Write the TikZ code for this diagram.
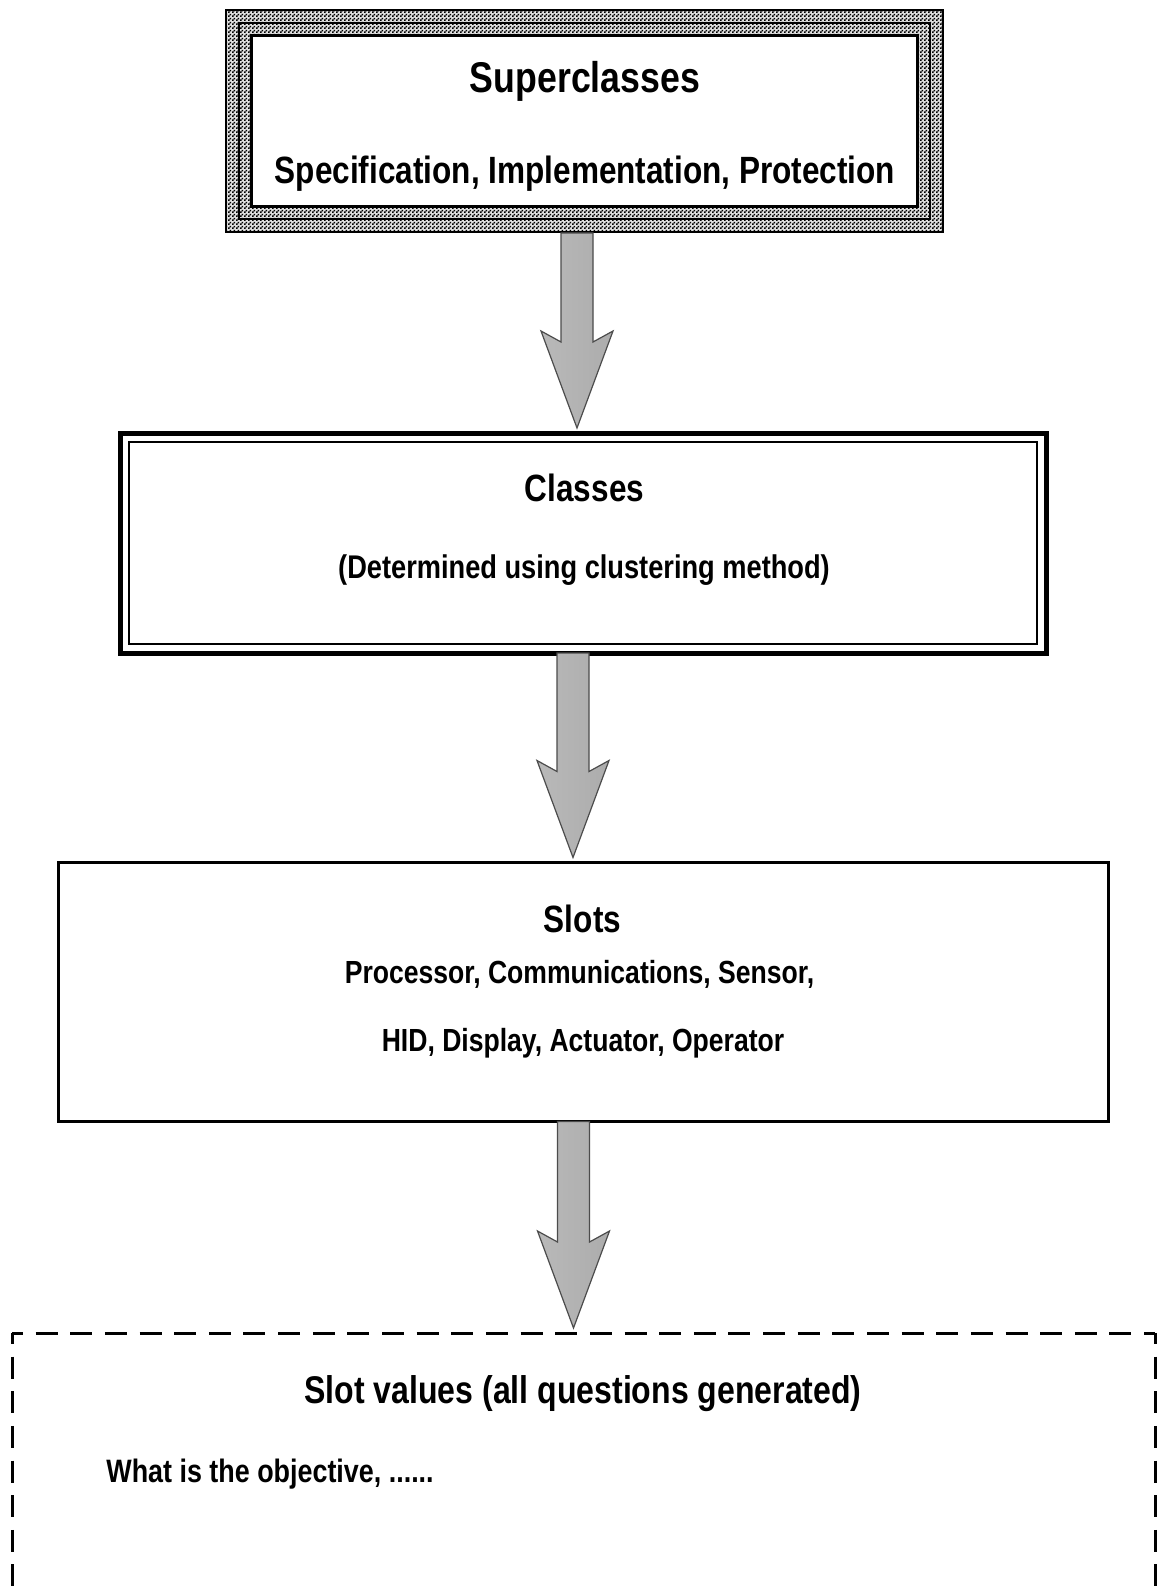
\documentclass[tikz,border=0pt]{standalone}
\usepackage{fontspec}
\newfontfamily\condfont[FakeStretch=0.83]{Liberation Sans}
\usetikzlibrary{calc,patterns.meta}

% fine half-tone checker used in the frame of the top box
\tikzdeclarepattern{
  name=finecheck,
  type=uncolored,
  bounding box={(0pt,0pt) and (2pt,2pt)},
  tile size={(2pt,2pt)},
  code={
    \pgfpathrectangle{\pgfpoint{0pt}{0pt}}{\pgfpoint{1pt}{1pt}}
    \pgfpathrectangle{\pgfpoint{1pt}{1pt}}{\pgfpoint{1pt}{1pt}}
    \pgfusepath{fill}
  }
}

\tikzset{
  boxshape/.style={rectangle, inner sep=0pt, outer sep=0pt},
  txt/.style={inner sep=0pt, anchor=base, font=\condfont\bfseries\fontsize{#1}{#1}\selectfont},
  arrowfill/.style={draw=black!70, line width=0.6pt, line join=miter,
    left color=gray!55, middle color=gray!8, right color=gray!65},
  dashside/.style={line width=1.5pt, dash pattern=on 11pt off 6.32pt, dash phase=5.5pt}
}

% block arrow from the bottom of one box to just above the top of the next
\newcommand\blockarrow[3]{%
  \path[arrowfill] let \p1=(#1.south), \p2=(#2.north) in
    (\x1+#3-8pt,\y1) -- (\x1+#3-8pt,\y2+2.5pt+43pt) -- (\x1+#3-18pt,\y2+2.5pt+48.5pt)
    -- (\x1+#3,\y2+2.5pt) -- (\x1+#3+18pt,\y2+2.5pt+48.5pt) -- (\x1+#3+8pt,\y2+2.5pt+43pt)
    -- (\x1+#3+8pt,\y1) -- cycle;}

\begin{document}
\begin{tikzpicture}[x=0.5pt,y=-0.5pt]
\useasboundingbox (0,0) rectangle (1161,1589);
\fill[white] (0,0) rectangle (1161,1589);
\clip (0,0) rectangle (1161,1589);

% ---- Superclasses: patterned double frame ----
\node[boxshape, minimum width=359.5pt, minimum height=112pt] (sup) at (584.5,121) {};
\fill[black] (sup.north west) rectangle (sup.south east);
\fill[gray!25] ([shift={(1pt,-1pt)}]sup.north west) rectangle ([shift={(-1pt,1pt)}]sup.south east);
\fill[pattern=finecheck] ([shift={(1pt,-1pt)}]sup.north west) rectangle ([shift={(-1pt,1pt)}]sup.south east);
\fill[black] ([shift={(6.5pt,-6.5pt)}]sup.north west) rectangle ([shift={(-6.5pt,6.5pt)}]sup.south east);
\fill[gray!25] ([shift={(7.5pt,-7.5pt)}]sup.north west) rectangle ([shift={(-7.5pt,7.5pt)}]sup.south east);
\fill[pattern=finecheck] ([shift={(7.5pt,-7.5pt)}]sup.north west) rectangle ([shift={(-7.5pt,7.5pt)}]sup.south east);
\fill[black] ([shift={(12.5pt,-12.5pt)}]sup.north west) rectangle ([shift={(-12.5pt,12.5pt)}]sup.south east);
\fill[white] ([shift={(14pt,-14pt)}]sup.north west) rectangle ([shift={(-14pt,14pt)}]sup.south east);
\node[txt=21.5] (supA) at (585,93) {Superclasses};
\node[txt=19] (supB) at (585,183.5) {Specification, Implementation, Protection};

% ---- Classes: heavy outer line with thin inner line ----
\node[boxshape, draw, line width=2.5pt, minimum width=463pt, minimum height=110pt] (cls) at (583,543) {};
\draw[line width=1pt] ([shift={(4.5pt,-4.5pt)}]cls.north west) rectangle ([shift={(-4.5pt,4.5pt)}]cls.south east);
\node[txt=19] (clsA) at (584.5,501.5) {Classes};
\node[txt=16.4] (clsB) at (584,578.5) {(Determined using clustering method)};

% ---- Slots ----
\node[boxshape, draw, line width=1.5pt, minimum width=525pt, minimum height=129.5pt] (slots) at (583.5,992) {};
\node[txt=19] (slotsA) at (582.5,932) {Slots};
\node[txt=16] (slotsB) at (579.5,983) {Processor, Communications, Sensor,};
\node[txt=16] (slotsC) at (583,1051.5) {HID, Display, Actuator, Operator};

% ---- Slot values: dashed frame running off the page ----
\node[boxshape, minimum width=571.5pt, minimum height=200pt] (vals) at (583.5,1533) {};
\draw[dashside] (vals.north west) -- (vals.north east);
\draw[dashside] (vals.north west) -- (vals.south west);
\draw[dashside] (vals.north east) -- (vals.south east);
\node[txt=19.3] (valsA) at (583,1403) {Slot values (all questions generated)};
\node[txt=16.2, anchor=base west] (valsB) at (106,1482) {What is the objective, ......};

% ---- block arrows ----
\blockarrow{sup}{cls}{-3.75pt}
\blockarrow{cls}{slots}{-5pt}
\blockarrow{slots}{vals}{-5pt}
\end{tikzpicture}
\end{document}
